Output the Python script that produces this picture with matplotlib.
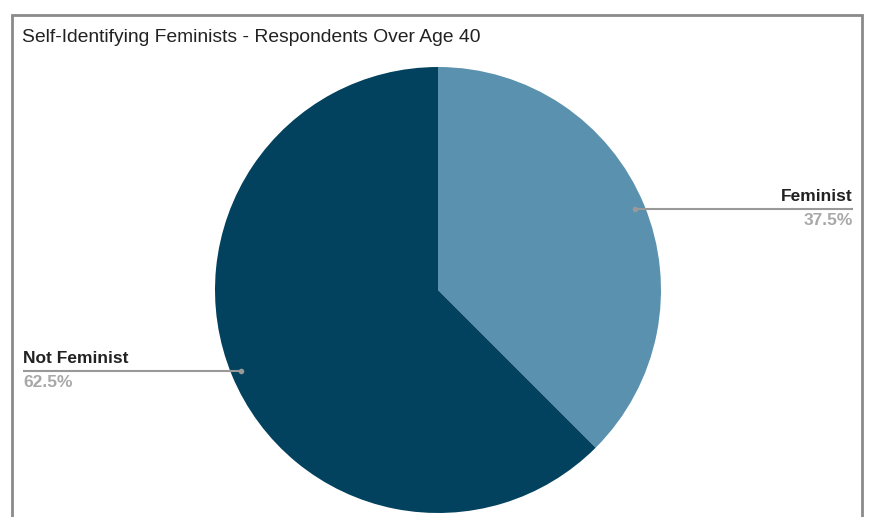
import numpy as np
import matplotlib.pyplot as plt
from matplotlib.patches import Rectangle

plt.rcParams["font.family"] = ["Liberation Sans", "DejaVu Sans"]

# DATA
TITLE = "Self-Identifying Feminists - Respondents Over Age 40"
LABELS = ["Feminist", "Not Feminist"]
SHARES = [37.5, 62.5]
COLORS = ["#5a91ae", "#03425e"]

W, H = 872, 517

fig = plt.figure(figsize=(W / 100, H / 100), dpi=100)
ax = fig.add_axes([0, 0, 1, 1])

# outer frame of the chart card (bottom edge runs off the canvas)
ax.add_patch(Rectangle((12, -20), 850, H - 15 + 20, fill=False, edgecolor="#8a8a8a", lw=2))

ax.text(22, H - 37, TITLE, fontsize=13.9, color="#222222", va="center", ha="left")

cx, cy, r = 438, H - 290, 223
wedges, _ = ax.pie(SHARES, colors=COLORS, startangle=90, counterclock=False,
                   center=(cx, cy), radius=r, frame=True,
                   wedgeprops=dict(linewidth=0))
ax.set_xlim(0, W)
ax.set_ylim(0, H)
ax.set_aspect("equal")
ax.axis("off")

# leader lines and labels
for w, label, share in zip(wedges, LABELS, SHARES):
    mid = np.deg2rad((w.theta1 + w.theta2) / 2)
    px = cx + 0.955 * r * np.cos(mid)
    py = cy + 0.955 * r * np.sin(mid)
    if np.cos(mid) > 0:
        end, ha = 853, "right"
    else:
        end, ha = 23, "left"
    ax.plot([px, end], [py, py], color="#999999", lw=1.5, solid_capstyle="butt")
    ax.plot(px, py, "o", color="#999999", ms=4, mec="none")
    ax.text(end, py + 5, label, fontsize=12.5, fontweight="bold", color="#222222",
            ha=ha, va="bottom")
    ax.text(end, py - 4, f"{share}%", fontsize=12.5, fontweight="bold", color="#a8a8a8",
            ha=ha, va="top")

fig.savefig("out.png", dpi=100)
